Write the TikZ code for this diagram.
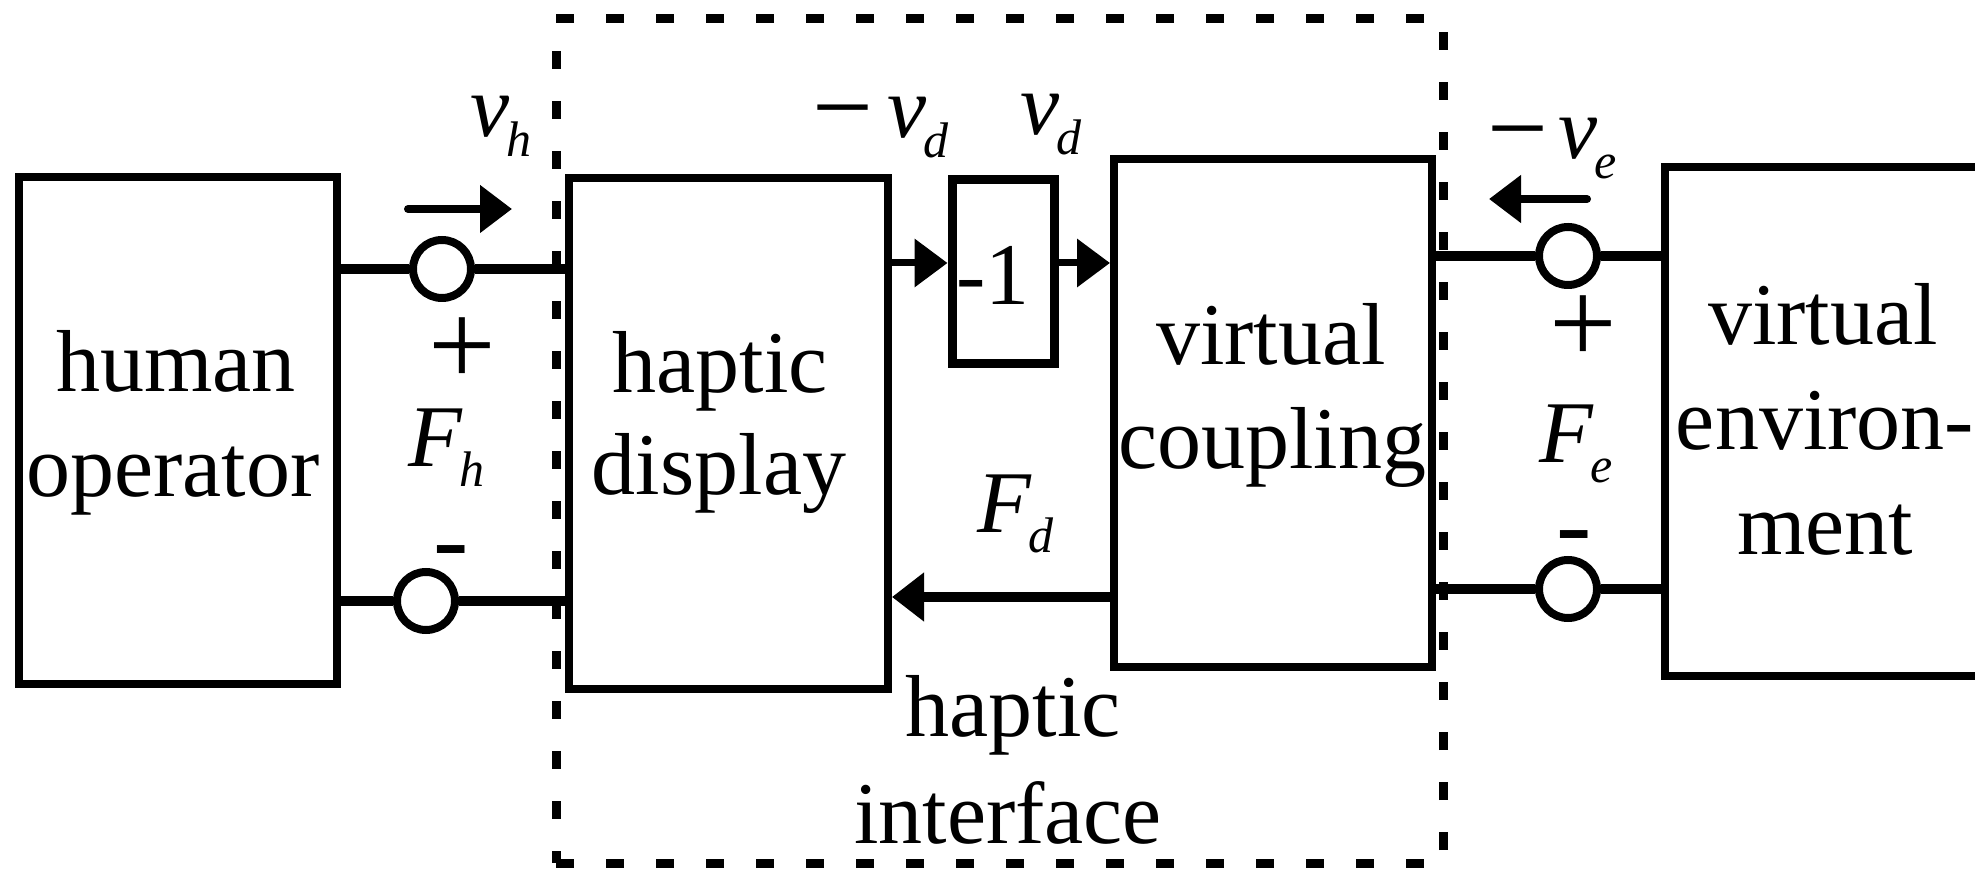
\documentclass[tikz,border=0pt]{standalone}
\usepackage{fontspec}
\setmainfont{Liberation Serif}
\usetikzlibrary{arrows.meta}
\newcommand\sigl[2]{{\itshape #1}\kern-1.5pt\raisebox{-10pt}{\fontsize{25}{25}\selectfont\itshape #2}}
\newcommand\bigminus{\raisebox{-3pt}{\fontsize{54}{54}\selectfont −}}
\begin{document}
\begin{tikzpicture}[x=0.5pt,y=-0.5pt,
  blk/.style={draw, line width=4pt, inner sep=0},
  txt/.style={font=\fontsize{44}{52}\selectfont, inner sep=0, anchor=base},
  sgn/.style={font=\fontsize{60}{60}\selectfont, inner sep=0, anchor=center},
  hyp/.style={font=\fontsize{53}{53}\selectfont, inner sep=0, anchor=base},
  term/.style={circle, draw, line width=4pt, fill=white, minimum size=29pt, inner sep=0},
  wire/.style={line width=5pt},
  arr/.style={line width=3.5pt, -{Triangle[length=16.5pt,width=23.5pt]}},
  arrF/.style={line width=5pt, -{Triangle[length=16pt,width=23.5pt]}},
  dirarr/.style={line width=4pt, line cap=round, -{Triangle[length=16pt,width=23pt]}},
  frame/.style={draw, line width=4.5pt, dash pattern=on 9pt off 16pt, inner sep=0}]
\useasboundingbox (0,0) rectangle (1975,870);
\clip (0,0) rectangle (1975,870);
% dashed haptic interface frame
\node[frame, minimum width=443.5pt, minimum height=422pt] (hif) at (999.5,441) {};
% blocks
\node[blk, minimum width=159pt, minimum height=253.5pt] (hum) at (178,430.5) {};
\node[blk, minimum width=159.5pt, minimum height=255.5pt] (hap) at (728.5,433.5) {};
\node[blk, line width=4.5pt, minimum width=51pt, minimum height=92pt] (m1) at (1003,272) {};
\node[blk, minimum width=159pt, minimum height=254pt] (vc) at (1273,413) {};
\node[blk, minimum width=217.5pt, minimum height=254.5pt] (ve) at (1882.5,421.5) {};
% block texts
\node[txt] (humA) at (176,392) {human};
\node[txt] (humB) at (173,497) {operator};
\node[txt] (hapA) at (720,393) {haptic};
\node[txt] (hapB) at (719,495) {display};
\node[txt] (m1T) at (993,305) {-1};
\node[txt] (vcA) at (1271,365) {virtual};
\node[txt] (vcB) at (1272,469) {coupling};
\node[txt] (veA) at (1823,345) {virtual};
\node[txt] (veB) at (1825,450) {environ-};
\node[txt] (veC) at (1825,555) {ment};
\node[txt] (hifA) at (1013,737) {haptic};
\node[txt] (hifB) at (1008,843) {interface};
% terminals
\node[term] (c1) at (442,269) {};
\node[term] (c2) at (426,601) {};
\node[term] (c3) at (1568,256) {};
\node[term] (c4) at (1568,589) {};
% wires
\draw[wire] (c1.west) -- (c1.west -| hum.east);
\draw[wire] (c1.east) -- (c1.east -| hap.west);
\draw[wire] (c2.west) -- (c2.west -| hum.east);
\draw[wire] (c2.east) -- (c2.east -| hap.west);
\draw[wire] (c3.west) -- (c3.west -| vc.east);
\draw[wire] (c3.east) -- (c3.east -| ve.west);
\draw[wire] (c4.west) -- (c4.west -| vc.east);
\draw[wire] (c4.east) -- (c4.east -| ve.west);
% signal arrows
\coordinate (yv) at (0,263);
\coordinate (yf) at (0,597);
\draw[arr] (hap.east |- yv) -- (m1.west |- yv);
\draw[arr] (m1.east |- yv) -- (vc.west |- yv);
\draw[arrF] (vc.west |- yf) -- (hap.east |- yf);
% direction arrows
\coordinate (ah1) at (408,209);
\coordinate (ah2) at (512,209);
\coordinate (ae1) at (1587,199);
\coordinate (ae2) at (1489,199);
\draw[dirarr] (ah1) -- (ah2);
\draw[dirarr] (ae1) -- (ae2);
% labels
\node[txt, anchor=base west] (lvh) at (470,137) {\sigl{v}{h}};
\node[txt, anchor=base west] (lvd1) at (812,138) {\bigminus\kern7pt\sigl{v}{d}};
\node[txt, anchor=base west] (lvd2) at (1020,135) {\sigl{v}{d}};
\node[txt, anchor=base west] (lve) at (1487,159) {\bigminus\kern5pt\sigl{v}{e}};
\node[txt, anchor=base west] (lfh) at (408,467) {\sigl{F}{h}};
\node[txt, anchor=base west] (lfd) at (977,533) {\sigl{F}{d}};
\node[txt, anchor=base west] (lfe) at (1539,463) {\sigl{F}{e}};
\node[sgn] (p1) at (462,352) {+};
\node[hyp] (n1) at (451,575) {-};
\node[sgn] (p2) at (1583,330) {+};
\node[hyp] (n2) at (1574,560) {-};
\end{tikzpicture}
\end{document}
